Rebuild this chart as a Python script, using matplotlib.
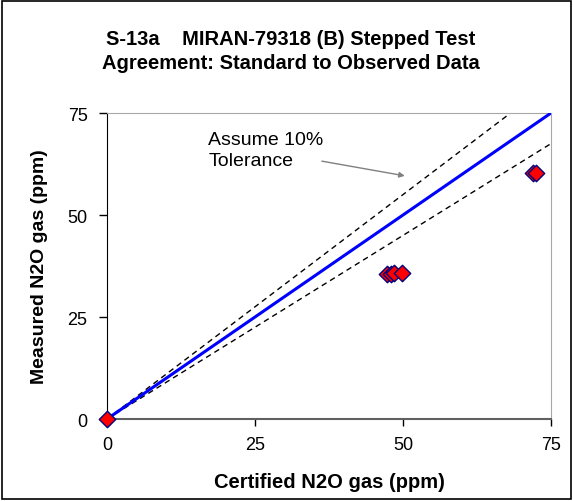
import matplotlib
matplotlib.use("Agg")
import matplotlib.pyplot as plt
import numpy as np

plt.rcParams['font.family'] = ['Liberation Sans', 'DejaVu Sans']

certified = [0, 47.3, 47.9, 48.5, 49.8, 72.0, 72.4]
measured = [0, 35.6, 35.6, 35.7, 35.8, 60.3, 60.4]
ticks = [0, 25, 50, 75]
tolerance = 0.10
axis_max = 75

fig = plt.figure(figsize=(5.73, 5.02), dpi=100)
ax = fig.add_axes([0.1867, 0.1633, 0.7749, 0.6096])

# 1:1 line
ax.plot([0, axis_max], [0, axis_max], color='#0000FF', lw=2.2, zorder=3)
# tolerance lines
ax.plot([0, axis_max / (1 + tolerance)], [0, axis_max], color='black', lw=1.0, ls=(0, (4, 3)), zorder=2)
ax.plot([0, axis_max], [0, axis_max * (1 - tolerance)], color='black', lw=1.0, ls=(0, (4, 3)), zorder=2)

ax.scatter(certified, measured, marker='D', s=70, facecolor='#FF0000', edgecolor='#000080', linewidth=1.0, zorder=5, clip_on=False)

ax.set_xlim(0, axis_max)
ax.set_ylim(0, axis_max)
ax.set_xticks(ticks)
ax.set_yticks(ticks)
ax.tick_params(axis='x', labelsize=13, direction='out', length=5, width=1, pad=7)
ax.tick_params(axis='y', labelsize=13, direction='out', length=6, width=1, pad=8)
for s in ['top', 'right']:
    ax.spines[s].set_color('#A8A8A8')
ax.spines['left'].set_color('black')
ax.spines['bottom'].set_color('#606060')
ax.spines['bottom'].set_linewidth(1.5)

ax.set_xlabel('Certified N2O gas (ppm)', fontsize=14.5, fontweight='bold')
ax.set_ylabel('Measured N2O gas (ppm)', fontsize=14, fontweight='bold')
ax.xaxis.set_label_coords(0.5, -0.203)
ax.yaxis.set_label_coords(-0.153, 0.5)
ax.xaxis.label.set_va('center')
ax.yaxis.label.set_va('center')

fig.text(0.508, 0.898, 'S-13a    MIRAN-79318 (B) Stepped Test\nAgreement: Standard to Observed Data',
         ha='center', va='center', fontsize=14.5, fontweight='bold', linespacing=1.35)

ax.text(17.1, 65.9, 'Assume 10%\nTolerance', fontsize=14, ha='left', va='center', linespacing=1.35)
ax.annotate('', xy=(50.3, 59.6), xytext=(36.3, 63.2),
            arrowprops=dict(arrowstyle='-|>', color='#808080', lw=1.0, mutation_scale=8,
                            shrinkA=0, shrinkB=0))

# figure border
fig.add_artist(plt.Rectangle((0.004, 0.004), 0.992, 0.992, transform=fig.transFigure,
                             fill=False, edgecolor='black', lw=1.2))

fig.savefig('out.png', dpi=100)
